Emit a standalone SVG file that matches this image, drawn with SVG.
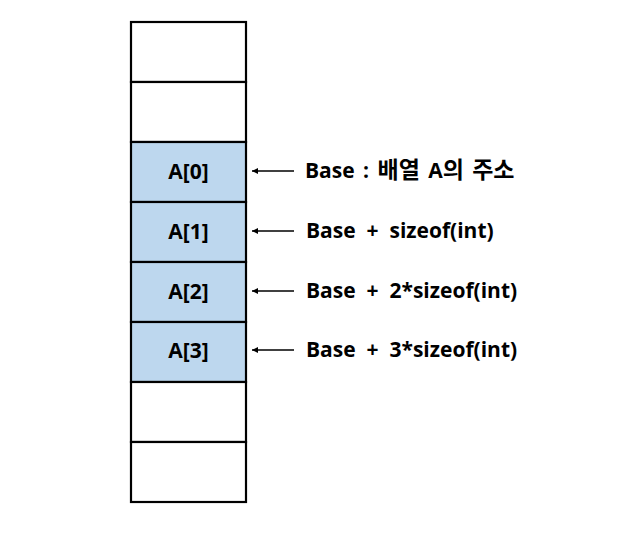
<svg xmlns="http://www.w3.org/2000/svg" width="620" height="548" viewBox="0 0 620 548">
<style>
.cell{stroke:#000;stroke-width:2.2}
.empty{fill:#fff}
.arr{fill:#bdd7ee}
.lbl{font-family:"Open Sans","Noto Sans CJK KR",sans-serif;font-weight:bold;font-size:21px;fill:#000}
.ko{font-family:"Noto Sans CJK KR","Open Sans",sans-serif;font-size:23px}
.conn{stroke:#000;stroke-width:1.5;fill:none}
</style>
<defs>
<marker id="ah" markerWidth="8" markerHeight="8" refX="7" refY="4" orient="auto" markerUnits="userSpaceOnUse">
<path d="M1,1 L7,4 L1,7 Z" fill="#000"/>
</marker>
</defs>
<rect width="620" height="548" fill="#fff"/>
<g id="cell-empty1"><rect class="cell empty" x="131" y="22" width="115" height="60"/></g>
<g id="cell-empty2"><rect class="cell empty" x="131" y="82" width="115" height="60"/></g>
<g id="cell-A0"><rect class="cell arr" x="131" y="142" width="115" height="60"/><text class="lbl" x="188.5" y="179" text-anchor="middle">A[0]</text></g>
<g id="cell-A1"><rect class="cell arr" x="131" y="202" width="115" height="60"/><text class="lbl" x="188.5" y="239" text-anchor="middle">A[1]</text></g>
<g id="cell-A2"><rect class="cell arr" x="131" y="262" width="115" height="60"/><text class="lbl" x="188.5" y="299" text-anchor="middle">A[2]</text></g>
<g id="cell-A3"><rect class="cell arr" x="131" y="322" width="115" height="60"/><text class="lbl" x="188.5" y="358" text-anchor="middle">A[3]</text></g>
<g id="cell-empty3"><rect class="cell empty" x="131" y="382" width="115" height="60"/></g>
<g id="cell-empty4"><rect class="cell empty" x="131" y="442" width="115" height="60"/></g>
<g id="label-0"><text class="lbl" x="305" y="178" style="word-spacing:3px">Base : <tspan class="ko">배열</tspan> A<tspan class="ko">의 주소</tspan></text></g>
<g id="label-1"><text class="lbl" x="306" y="238" xml:space="preserve">Base  +  sizeof(int)</text></g>
<g id="label-2"><text class="lbl" x="306" y="298" xml:space="preserve">Base  +  2*sizeof(int)</text></g>
<g id="label-3"><text class="lbl" x="306" y="357" xml:space="preserve">Base  +  3*sizeof(int)</text></g>
<g id="connectors">
<line class="conn" x1="294" y1="171" x2="252" y2="171" marker-end="url(#ah)"/>
<line class="conn" x1="294" y1="231" x2="252" y2="231" marker-end="url(#ah)"/>
<line class="conn" x1="294" y1="291" x2="252" y2="291" marker-end="url(#ah)"/>
<line class="conn" x1="294" y1="350" x2="252" y2="350" marker-end="url(#ah)"/>
</g>
</svg>
